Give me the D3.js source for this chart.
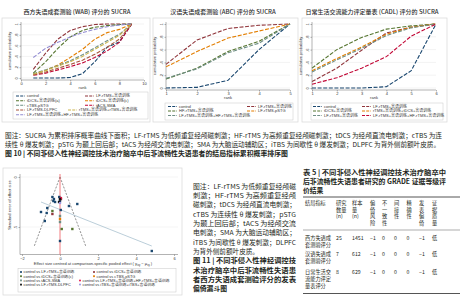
<!DOCTYPE html>
<html>
<head>
<meta charset="utf-8">
<script src="https://cdn.jsdelivr.net/npm/d3@7"></script>
<style>
  body { margin: 0; background: #fff; }
  svg { display: block; font-family: "Liberation Sans", "Noto Sans CJK SC", sans-serif; }
</style>
</head>
<body>
<div id="chart"></div>
<script>
// ---------- data: 图 10 SUCRA (cumulative probability by rank) ----------
var sucraYTicks = [0, 0.2, 0.4, 0.6, 0.8, 1];

var wabRanks = [1, 2, 3, 4, 5, 6, 7, 8, 9];
var wabXTicks = [0, 2, 4, 6, 8, 10];
var wabNames = ["control", "LF-rTMS+言语训练", "tDCS+言语训练(a)", "tDCS+言语训练(c)", "cTBS-pSTG",
                "tACS-SMA", "LF-rTMS-DLPFC", "rTMS+言语训练+rTMS+言语训练", "LF-rTMS+言语训练+HF-rTMS+言语训练"];
var wabColors = ["#1a476f", "#90353b", "#55752f", "#e37e00", "#6e8e84", "#c10534", "#a8553a", "#cbb44c", "#938dd2"];
var wabValues = [
  [0, 0, 0, 0.01, 0.08, 0.30, 0.57, 0.67, 1],
  [0.16, 0.46, 0.72, 0.88, 0.95, 0.99, 1, 1, 1],
  [0.09, 0.30, 0.55, 0.76, 0.88, 0.94, 0.97, 0.99, 1],
  [0.07, 0.14, 0.24, 0.38, 0.53, 0.72, 0.84, 0.90, 1],
  [0.08, 0.15, 0.23, 0.32, 0.43, 0.56, 0.69, 0.81, 1],
  [0.05, 0.09, 0.15, 0.21, 0.28, 0.38, 0.50, 0.66, 1],
  [0.06, 0.11, 0.18, 0.25, 0.33, 0.44, 0.57, 0.72, 1],
  [0.07, 0.14, 0.22, 0.30, 0.40, 0.53, 0.66, 0.79, 1],
  [0.38, 0.55, 0.66, 0.76, 0.84, 0.90, 0.95, 0.98, 1]
];

var abcRanks = [1, 2, 3, 4, 5];
var abcNames = ["control", "LF-rTMS+言语训练", "HF-rTMS+言语训练", "LF-rTMS-pSTG", "LF-rTMS+言语训练+HF-rTMS+言语训练"];
var abcColors = ["#1a476f", "#90353b", "#55752f", "#e37e00", "#6e8e84"];
var abcValues = [
  [0, 0.01, 0.12, 0.60, 1],
  [0.37, 0.75, 0.93, 0.98, 1],
  [0.14, 0.31, 0.57, 0.73, 1],
  [0.33, 0.57, 0.78, 0.89, 1],
  [0.15, 0.30, 0.55, 0.70, 1]
];

var cadlRanks = [1, 2, 3, 4, 5, 6];
var cadlNames = ["control", "LF-rTMS+言语训练", "tDCS+言语训练", "rTMS+言语训练+tDCS+言语训练",
                 "LF-rTMS+言语训练", "LF-rTMS+言语训练+HF-rTMS+言语训练"];
var cadlColors = ["#1a476f", "#90353b", "#55752f", "#e37e00", "#6e8e84", "#c10534"];
var cadlValues = [
  [0, 0, 0, 0.02, 0.27, 1],
  [0.10, 0.31, 0.59, 0.86, 0.95, 1],
  [0.31, 0.60, 0.79, 0.92, 0.97, 1],
  [0.27, 0.46, 0.64, 0.84, 0.95, 1],
  [0.25, 0.44, 0.62, 0.82, 0.94, 1],
  [0.06, 0.16, 0.31, 0.49, 0.81, 1]
];

// ---------- data: 图 11 comparison-adjusted funnel plot ----------
var funnelGroups = ["control vs LF-rTMS+言语训练", "control vs tDCS+言语训练", "control vs tDCS+言语训练(c)",
                    "control vs cTBS-pSTG", "control vs tACS-SMA", "control vs LF-rTMS+言语训练+HF-rTMS+言语训练",
                    "control vs LF-rTMS-DLPFC", "control vs iTBS+言语训练+iTBS+言语训练"];
var funnelColors = ["#1a476f", "#90353b", "#55752f", "#e37e00", "#6e8e84", "#e8174a", "#111111", "#9e98e0"];
var funnelShapes = ["square", "square", "square", "square", "square", "circle", "square", "circle"];
// [effect, standard error, group]
var funnelPoints = [
  [-1.00, 0.35, 0], [-0.70, 0.36, 0], [-0.67, 0.31, 0], [-0.40, 0.20, 0], [-0.35, 0.24, 0],
  [-0.26, 0.25, 0], [-0.32, 0.22, 0], [-0.04, 0.20, 0], [0.00, 0.24, 0], [0.04, 0.33, 0],
  [0.47, 0.29, 0], [0.91, 0.27, 0], [-0.80, 0.44, 0], [0.00, 0.64, 0], [4.83, 0.74, 0],
  [0.05, 0.22, 1], [-0.40, 0.37, 1],
  [-0.40, 0.34, 2], [0.09, 0.52, 2], [0.65, 0.52, 2],
  [0.00, 0.42, 3],
  [0.00, 0.39, 4], [0.00, 0.45, 4],
  [0.05, 0.21, 5],
  [0.00, 0.22, 6], [-0.05, 0.25, 6],
  [0.00, 0.26, 7]
];
var funnelXTicks = [-2, 0, 2, 4, 6];
var funnelYTicks = [0, 0.5];
var funnelSeMax = 0.7;
var funnelFit = [[-1.0, 0.25], [4.83, 0.69]];

// ---------- data: 表 5 GRADE ----------
var gradeHeaders = [["结局指标"], ["研究", "数量", "(n)"], ["样本", "量", "(n)"], ["偏", "倚", "风", "险"],
                    ["不", "一", "致", "性"], ["间", "接", "性"], ["精", "确", "性"], ["发", "表", "偏", "倚"], ["证", "据", "质", "量"]];
var gradeOutcomes = [["西方失语成", "套测验评分"], ["汉语失语成", "套测验评分"], ["日常生活交", "流能力评定", "量表评分"]];
var gradeStudies = [25, 7, 8];
var gradeSamples = [1451, 612, 629];
var gradeBias = ["−1", "−1", "−1"];
var gradeInconsistency = [0, 0, 0];
var gradeIndirectness = [0, 0, 0];
var gradeImprecision = [0, 0, 0];
var gradePublication = ["−1", "−1", "−1"];
var gradeQuality = ["低", "低", "低"];

// ---------- text ----------
var fig10Notes = [
  "图注：SUCRA 为累积排序概率曲线下面积；LF-rTMS 为低频重复经颅磁刺激；HF-rTMS 为高频重复经颅磁刺激；tDCS 为经颅直流电刺激；cTBS 为连",
  "续性 θ 爆发刺激；pSTG 为颞上回后部；tACS 为经颅交流电刺激；SMA 为大脑运动辅助区；iTBS 为间歇性 θ 爆发刺激；DLPFC 为背外侧前额叶皮质。"
];
var fig10Caption = "图 10  |  不同非侵入性神经调控技术治疗脑卒中后非流畅性失语患者的结局指标累积概率排序图";
var fig11Notes = ["图注：LF-rTMS 为低频重复经颅磁", "刺激；HF-rTMS 为高频重复经颅", "磁刺激；tDCS 为经颅直流电刺激；",
  "cTBS 为连续性 θ 爆发刺激；pSTG", "为颞上回后部；tACS 为经颅交流", "电刺激；SMA 为大脑运动辅助区；",
  "iTBS 为间歇性 θ 爆发刺激；DLPFC", "为背外侧前额叶皮质。"];
var fig11Caption = ["图 11  |  不同非侵入性神经调控技", "术治疗脑卒中后非流畅性失语患", "者西方失语成套测验评分的发表", "偏倚漏斗图"];
var table5Title = ["表 5  |  不同非侵入性神经调控技术治疗脑卒中", "后非流畅性失语患者研究的 GRADE 证据等级评", "价结果"];

var CJK = "'Noto Sans CJK SC', sans-serif";
var INK = "#231f20";

var svg = d3.select("#chart").append("svg")
    .attr("width", 463)
    .attr("height", 300);
svg.append("rect").attr("width", 463).attr("height", 300).attr("fill", "#fff");

function stataFmt(d) {
    if (d === 0) return "0";
    if (d === 1) return "1";
    return d3.format(".1f")(d).replace(/^0/, "");
}

function styleAxis(a) {
    a.select(".domain").remove();
    a.selectAll(".tick line").attr("stroke", "#666").attr("stroke-width", 0.5);
    a.selectAll(".tick text").attr("font-size", 4).attr("fill", "#333");
}

/*
 * one SUCRA panel
 */
function drawSucra(cfg) {
    var g = svg.append("g");

    g.append("rect")
        .attr("x", cfg.frame[0]).attr("y", cfg.frame[1])
        .attr("width", cfg.frame[2]).attr("height", cfg.frame[3])
        .attr("fill", "#fff").attr("stroke", "#dcdcdc").attr("stroke-width", 0.8);

    g.append("text")
        .attr("x", cfg.titleX).attr("y", 14)
        .attr("text-anchor", "middle")
        .attr("font-family", CJK).attr("font-size", 6).attr("font-weight", 500)
        .attr("fill", "#2a2a2a")
        .text(cfg.title);

    var x = d3.scaleLinear().domain(cfg.xDomain).range([cfg.left, cfg.right]);
    var y = d3.scaleLinear().domain([0, 1]).range([cfg.bottom, cfg.top]);

    // gridlines
    g.selectAll(".grid").data(sucraYTicks).enter().append("line")
        .attr("x1", cfg.left).attr("x2", cfg.right)
        .attr("y1", function(d) { return y(d); })
        .attr("y2", function(d) { return y(d); })
        .attr("stroke", "#e6e6e6").attr("stroke-width", 0.5);

    // axis lines
    g.append("line").attr("x1", cfg.left).attr("x2", cfg.left)
        .attr("y1", cfg.top - 2).attr("y2", cfg.bottom + 2)
        .attr("stroke", "#666").attr("stroke-width", 0.5);
    g.append("line").attr("x1", cfg.left).attr("x2", cfg.right)
        .attr("y1", cfg.bottom + 2).attr("y2", cfg.bottom + 2)
        .attr("stroke", "#666").attr("stroke-width", 0.5);

    var ya = g.append("g").attr("transform", "translate(" + cfg.left + ",0)")
        .call(d3.axisLeft(y).tickValues(sucraYTicks).tickFormat(stataFmt).tickSize(1.5));
    styleAxis(ya);
    ya.selectAll(".tick text")
        .attr("x", null).attr("dy", null)
        .attr("text-anchor", "middle")
        .attr("transform", "translate(-2.6,0) rotate(-90)");

    var xa = g.append("g").attr("transform", "translate(0," + (cfg.bottom + 2) + ")")
        .call(d3.axisBottom(x).tickValues(cfg.xTicks).tickFormat(d3.format("d")).tickSize(1.5).tickPadding(1));
    styleAxis(xa);

    g.append("text")
        .attr("x", (cfg.left + cfg.right) / 2).attr("y", cfg.bottom + 11)
        .attr("text-anchor", "middle").attr("font-size", 4).attr("fill", "#333")
        .text("rank");

    g.append("text")
        .attr("transform", "translate(" + (cfg.left - 10) + "," + ((cfg.top + cfg.bottom) / 2) + ") rotate(-90)")
        .attr("text-anchor", "middle").attr("font-size", 4).attr("fill", "#333")
        .text("cumulative probability");

    // curves
    var line = d3.line()
        .x(function(d, i) { return x(cfg.ranks[i]); })
        .y(function(d) { return y(d); });

    g.selectAll(".curve").data(cfg.values).enter().append("path")
        .attr("d", line)
        .attr("fill", "none")
        .attr("stroke", function(d, i) { return cfg.colors[i]; })
        .attr("stroke-width", 1.1)
        .attr("stroke-dasharray", "4,1.6");

    // legend
    g.append("rect")
        .attr("x", cfg.legendBox[0]).attr("y", cfg.legendBox[1])
        .attr("width", cfg.legendBox[2]).attr("height", cfg.legendBox[3])
        .attr("fill", "#fff").attr("stroke", "#c8c8c8").attr("stroke-width", 0.5);

    var items = g.selectAll(".leg").data(cfg.names).enter().append("g")
        .attr("transform", function(d, i) { return "translate(" + cfg.legendPos[i][0] + "," + cfg.legendPos[i][1] + ")"; });
    items.append("line")
        .attr("x1", 0).attr("x2", 9).attr("y1", 0).attr("y2", 0)
        .attr("stroke", function(d, i) { return cfg.colors[i]; })
        .attr("stroke-width", 1.1).attr("stroke-dasharray", "3,1.2");
    items.append("text")
        .attr("x", 11).attr("y", 1.4)
        .attr("font-size", 4).attr("fill", "#333")
        .text(function(d) { return d; });
}

drawSucra({
    title: "西方失语成套测验 (WAB) 评分的 SUCRA", titleX: 77,
    frame: [2, 18, 148, 104],
    left: 21, right: 144, top: 24, bottom: 78,
    xDomain: [0, 10], xTicks: wabXTicks, ranks: wabRanks,
    names: wabNames, colors: wabColors, values: wabValues,
    legendBox: [13, 92, 135, 27],
    legendPos: [[16, 96], [85, 96], [16, 100.7], [85, 100.7], [16, 105.3], [85, 105.3], [16, 110], [68, 110], [16, 114.7]]
});

drawSucra({
    title: "汉语失语成套测验 (ABC) 评分的 SUCRA", titleX: 223,
    frame: [153, 18, 145, 104],
    left: 166, right: 290, top: 24, bottom: 88,
    xDomain: [1, 5], xTicks: abcRanks, ranks: abcRanks,
    names: abcNames, colors: abcColors, values: abcValues,
    legendBox: [165, 103, 128, 17],
    legendPos: [[168, 106.5], [247, 106.5], [168, 111], [247, 111], [168, 115.5]]
});

drawSucra({
    title: "日常生活交流能力评定量表 (CADL) 评分的 SUCRA", titleX: 372,
    frame: [302, 18, 145, 104],
    left: 312, right: 436, top: 24, bottom: 88,
    xDomain: [1, 6], xTicks: cadlRanks, ranks: cadlRanks,
    names: cadlNames, colors: cadlColors, values: cadlValues,
    legendBox: [311, 103, 132, 17],
    legendPos: [[313, 106.5], [362, 106.5], [313, 111], [362, 111], [313, 115.5], [362, 115.5]]
});

// ---------- paragraph text ----------
function para(x, y, s, size, weight, width) {
    var t = svg.append("text")
        .attr("x", x).attr("y", y)
        .attr("font-family", CJK).attr("font-size", size).attr("font-weight", weight)
        .attr("fill", INK)
        .text(s);
    if (width) t.attr("textLength", width).attr("lengthAdjust", "spacingAndGlyphs");
    return t;
}

para(5, 137.5, fig10Notes[0], 6.6, 400, 437);
para(5, 146.5, fig10Notes[1], 6.6, 400, 435);
para(5, 155.5, fig10Caption, 6.8, 700, 283);

// ---------- funnel plot ----------
var fg = svg.append("g");
fg.append("rect").attr("x", 3).attr("y", 168).attr("width", 179).attr("height", 127)
    .attr("fill", "#fff").attr("stroke", "#dcdcdc").attr("stroke-width", 0.8);

var fx = d3.scaleLinear().domain([-2, 6]).range([22, 174]);
var fy = d3.scaleLinear().domain([0, 0.5]).range([177, 227]);

fg.selectAll(".fgrid").data(funnelYTicks).enter().append("line")
    .attr("x1", 20).attr("x2", 178)
    .attr("y1", function(d) { return fy(d); }).attr("y2", function(d) { return fy(d); })
    .attr("stroke", "#e8e8e8").attr("stroke-width", 0.5);

fg.append("line").attr("x1", 20).attr("x2", 20).attr("y1", 174).attr("y2", 254.5)
    .attr("stroke", "#666").attr("stroke-width", 0.5);
fg.append("line").attr("x1", 20).attr("x2", 178).attr("y1", 254.5).attr("y2", 254.5)
    .attr("stroke", "#666").attr("stroke-width", 0.5);

var fya = fg.append("g").attr("transform", "translate(20,0)")
    .call(d3.axisLeft(fy).tickValues(funnelYTicks).tickFormat(function(d) { return d === 0 ? "0" : ".5"; }).tickSize(1.5));
styleAxis(fya);
fya.selectAll(".tick text").attr("x", null).attr("dy", null)
    .attr("text-anchor", "middle").attr("transform", "translate(-2.6,0) rotate(-90)");

var fxa = fg.append("g").attr("transform", "translate(0,254.5)")
    .call(d3.axisBottom(fx).tickValues(funnelXTicks).tickFormat(d3.format("d")).tickSize(1.5).tickPadding(1));
styleAxis(fxa);

fg.append("text")
    .attr("transform", "translate(11,205) rotate(-90)")
    .attr("text-anchor", "middle").attr("font-size", 4).attr("fill", "#333")
    .text("Standard error of effect size");

var xTitle = fg.append("text").attr("x", 93).attr("y", 265)
    .attr("text-anchor", "middle").attr("font-size", 4).attr("fill", "#333");
xTitle.append("tspan").text("Effect size centred at comparison-specific pooled effect ( y");
xTitle.append("tspan").attr("font-size", 2.6).attr("dy", 0.8).text("ixy");
xTitle.append("tspan").attr("dy", -0.8).text(" − μ");
xTitle.append("tspan").attr("font-size", 2.6).attr("dy", 0.8).text("xy");
xTitle.append("tspan").attr("dy", -0.8).text(" )");

// pseudo 95% limits
[-1.96, 1.96].forEach(function(z) {
    fg.append("line")
        .attr("x1", fx(0)).attr("y1", fy(0))
        .attr("x2", fx(z * funnelSeMax)).attr("y2", fy(funnelSeMax))
        .attr("stroke", "#444").attr("stroke-width", 0.6).attr("stroke-dasharray", "2,1.4");
});

fg.append("line").attr("x1", fx(0)).attr("x2", fx(0)).attr("y1", 174).attr("y2", 254.5)
    .attr("stroke", "#ef5a5f").attr("stroke-width", 0.8);

fg.append("line")
    .attr("x1", fx(funnelFit[0][0])).attr("y1", fy(funnelFit[0][1]))
    .attr("x2", fx(funnelFit[1][0])).attr("y2", fy(funnelFit[1][1]))
    .attr("stroke", "#a9c1cf").attr("stroke-width", 0.8);

function marker(sel, shape, color, size) {
    if (shape === "circle") {
        sel.append("circle").attr("r", size * 0.55).attr("fill", color);
    } else {
        sel.append("rect").attr("x", -size / 2).attr("y", -size / 2)
            .attr("width", size).attr("height", size).attr("fill", color);
    }
}

fg.selectAll(".pt").data(funnelPoints).enter().append("g")
    .attr("transform", function(d) { return "translate(" + fx(d[0]) + "," + fy(d[1]) + ")"; })
    .each(function(d) { marker(d3.select(this), funnelShapes[d[2]], funnelColors[d[2]], 2.4); });

// funnel legend
fg.append("rect").attr("x", 18).attr("y", 268.5).attr("width", 158).attr("height", 23.5)
    .attr("fill", "#fff").attr("stroke", "#c8c8c8").attr("stroke-width", 0.5);
var fLegendPos = [[21, 272], [94, 272], [21, 276.2], [94, 276.2], [21, 280.4], [80, 280.4], [21, 284.6], [80, 284.6]];
var fItems = fg.selectAll(".fleg").data(funnelGroups).enter().append("g")
    .attr("transform", function(d, i) { return "translate(" + fLegendPos[i][0] + "," + fLegendPos[i][1] + ")"; });
fItems.each(function(d, i) { marker(d3.select(this), funnelShapes[i], funnelColors[i], 1.8); });
fItems.append("text").attr("x", 2.6).attr("y", 1.3)
    .attr("font-size", 3.9).attr("fill", "#333")
    .text(function(d) { return d; });

// ---------- 图 11 notes ----------
fig11Notes.forEach(function(s, i) {
    para(193, 188.5 + i * 9.35, s, 6.6, 400, i < 7 ? 103 : null);
});
fig11Caption.forEach(function(s, i) {
    para(193, 263.3 + i * 9.35, s, 6.8, 700, i < 3 ? 103 : null);
});

// ---------- 表 5 ----------
table5Title.forEach(function(s, i) {
    para(303, 174.5 + i * 9, s, 6.8, 700, i < 2 ? 143 : null);
});

var tg = svg.append("g").attr("font-family", CJK).attr("font-size", 5.2).attr("fill", INK);
var colX = [305, 336, 352, 370, 382, 394, 406.5, 419, 432];

tg.append("line").attr("x1", 303).attr("x2", 460).attr("y1", 197).attr("y2", 197)
    .attr("stroke", "#555").attr("stroke-width", 1);
tg.append("line").attr("x1", 303).attr("x2", 460).attr("y1", 230).attr("y2", 230)
    .attr("stroke", "#777").attr("stroke-width", 0.6);
tg.append("line").attr("x1", 303).attr("x2", 460).attr("y1", 293.5).attr("y2", 293.5)
    .attr("stroke", "#555").attr("stroke-width", 1);

gradeHeaders.forEach(function(lines, c) {
    lines.forEach(function(s, r) {
        tg.append("text").attr("x", colX[c]).attr("y", 205 + r * 6.7).text(s);
    });
});

var rowY = [239.5, 255.5, 273.5];
gradeOutcomes.forEach(function(lines, r) {
    lines.forEach(function(s, k) {
        tg.append("text").attr("x", 305).attr("y", rowY[r] + k * 7).text(s);
    });
    var cells = [gradeStudies[r], gradeSamples[r], gradeBias[r], gradeInconsistency[r],
                 gradeIndirectness[r], gradeImprecision[r], gradePublication[r], gradeQuality[r]];
    cells.forEach(function(v, c) {
        tg.append("text").attr("x", colX[c + 1]).attr("y", rowY[r]).text(v);
    });
});
</script>
</body>
</html>
